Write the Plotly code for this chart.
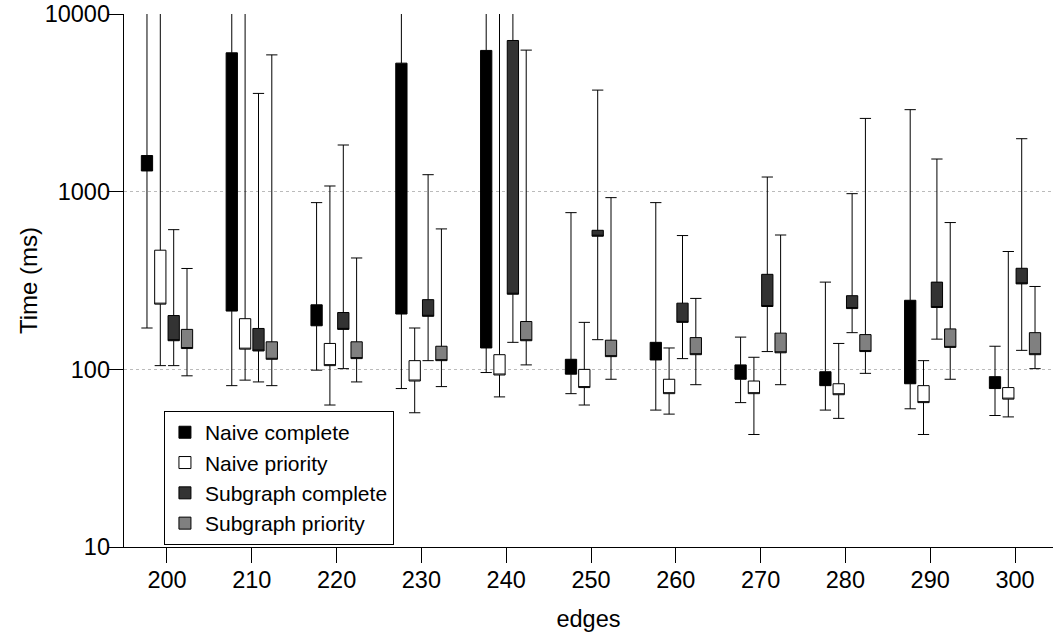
import plotly.graph_objects as go

# ---- data (values in ms) ----
edges = [200, 210, 220, 230, 240, 250, 260, 270, 280, 290, 300]
tick_vals_y = [10, 100, 1000, 10000]
tick_text_y = ["10", "100", "1000", "10000"]

# Naive complete
nc_low = [171, 81, 99, 78, 96, 73, 59, 65, 59, 60, 55]
nc_q1 = [1310, 213, 176, 205, 132, 94, 113, 88, 81, 83, 78]
nc_q3 = [1600, 6060, 231, 5300, 6250, 114, 142, 106, 97, 245, 91]
nc_high = [20000, 20000, 869, 20000, 20000, 763, 869, 152, 310, 2900, 135]

# Naive priority
np_low = [105, 87, 63, 57, 70, 63, 56, 43, 53, 43, 54]
np_q1 = [233, 130, 105, 86, 93, 79, 73, 73, 72, 65, 68]
np_q3 = [469, 193, 140, 112, 121, 100, 88, 86, 83, 81, 79]
np_high = [20000, 20000, 1078, 171, 20000, 184, 132, 117, 140, 112, 461]

# Subgraph complete
sc_low = [105, 85, 101, 112, 142, 147, 115, 126, 161, 148, 128]
sc_q1 = [145, 127, 168, 199, 265, 562, 184, 226, 220, 223, 303]
sc_q3 = [201, 170, 209, 247, 7110, 607, 236, 343, 260, 310, 371]
sc_high = [612, 3580, 1834, 1248, 20000, 3737, 567, 1211, 976, 1529, 1990]

# Subgraph priority
sp_low = [92, 81, 85, 80, 106, 88, 82, 82, 95, 88, 101]
sp_q1 = [131, 114, 115, 112, 145, 118, 121, 124, 126, 133, 121]
sp_q3 = [168, 143, 143, 135, 186, 146, 151, 160, 157, 169, 161]
sp_high = [370, 5900, 424, 618, 6275, 927, 251, 571, 2589, 671, 293]

series_names = ["Naive complete", "Naive priority", "Subgraph complete", "Subgraph priority"]
series_colors = ["#000000", "#ffffff", "#333333", "#808080"]
series_offsets = [-2.36, -0.79, 0.79, 2.36]
series_stats = [
    (nc_low, nc_q1, nc_q3, nc_high),
    (np_low, np_q1, np_q3, np_high),
    (sc_low, sc_q1, sc_q3, sc_high),
    (sp_low, sp_q1, sp_q3, sp_high),
]

FONT = "Liberation Sans, Arial, Helvetica, sans-serif"

fig = go.Figure()
for name, color, off, (low, q1, q3, high) in zip(series_names, series_colors, series_offsets, series_stats):
    fig.add_trace(go.Box(
        name=name,
        x=[e + off for e in edges],
        lowerfence=low,
        q1=q1,
        median=q1,  # no median line is shown in the reference
        q3=q3,
        upperfence=high,
        width=1.33,
        whiskerwidth=1,
        fillcolor=color,
        line=dict(color="black", width=1),
        boxpoints=False,
        hoverinfo="skip",
    ))

fig.update_layout(
    width=1053,
    height=637,
    margin=dict(l=124, r=0, t=14, b=90, autoexpand=False),
    plot_bgcolor="white",
    paper_bgcolor="white",
    font=dict(family=FONT, size=23, color="black"),
    boxmode="overlay",
    showlegend=True,
    legend=dict(
        x=0.043, y=0.255, xanchor="left", yanchor="top",
        bordercolor="black", borderwidth=1, bgcolor="white",
        font=dict(family=FONT, size=21, color="black"),
        traceorder="normal",
    ),
    xaxis=dict(
        range=[194.93, 304.48],
        tickmode="array",
        tickvals=edges,
        ticks="outside", ticklen=15, tickwidth=1, tickcolor="black",
        ticklabelstandoff=-4,
        showline=True, linecolor="black", linewidth=1.3,
        showgrid=False, zeroline=False,
        tickfont=dict(size=23.5),
        title=dict(text="edges", font=dict(size=23.5), standoff=19),
    ),
    yaxis=dict(
        type="log",
        range=[1, 4.001],
        tickmode="array",
        tickvals=tick_vals_y,
        ticktext=tick_text_y,
        ticks="outside", ticklen=15, tickwidth=1, tickcolor="black",
        ticklabelstandoff=-7,
        ticklabeloverflow="allow",
        showline=True, linecolor="black", linewidth=1.3,
        showgrid=True, gridcolor="#bbbbbb", gridwidth=1, griddash="dot",
        zeroline=False,
        tickfont=dict(size=23.5),
        title=dict(text="Time (ms)", font=dict(size=24), standoff=0),
    ),
)

# remove the browser's default 8px page margin so the figure sits at the page origin
fig.write_html(
    "out.html",
    config={"displayModeBar": False, "staticPlot": True},
    post_script="document.body.style.margin='0';document.body.style.overflow='hidden';",
)
